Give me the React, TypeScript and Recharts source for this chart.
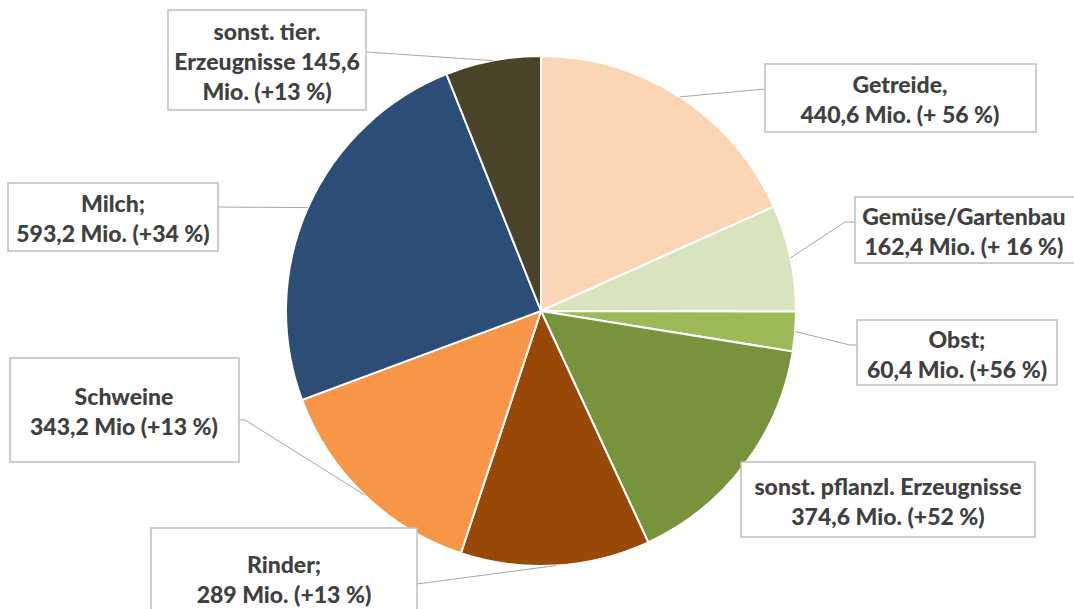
import { Cell, Pie, PieChart } from "recharts"

const categories = [
  "Getreide",
  "Gemüse/Gartenbau",
  "Obst",
  "sonst. pflanzl. Erzeugnisse",
  "Rinder",
  "Schweine",
  "Milch",
  "sonst. tier. Erzeugnisse",
]

const values = [440.6, 162.4, 60.4, 374.6, 289, 343.2, 593.2, 145.6]

const labelLines = [
  ["Getreide,", "440,6 Mio. (+ 56 %)"],
  ["Gemüse/Gartenbau", "162,4 Mio. (+ 16 %)"],
  ["Obst;", "60,4 Mio. (+56 %)"],
  ["sonst. pflanzl. Erzeugnisse", "374,6 Mio. (+52 %)"],
  ["Rinder;", "289 Mio. (+13 %)"],
  ["Schweine", "343,2 Mio (+13 %)"],
  ["Milch;", "593,2 Mio. (+34 %)"],
  ["sonst. tier.", "Erzeugnisse 145,6", "Mio. (+13 %)"],
]

const colors = ["#FCD5B5", "#D7E4BD", "#9BBB59", "#77933C", "#984807", "#F79646", "#2C4D75", "#4A4229"]

// label box placement (layout only)
const boxes = [
  { x: 765, y: 64, w: 271, h: 68, ax: 765, ay: 89, tx: 900 },
  { x: 855, y: 197, w: 226, h: 66, ax: 855, ay: 222, ex: 845, ey: 222, tx: 964 },
  { x: 857, y: 320, w: 200, h: 65, ax: 857, ay: 345, ex: 850, ey: 345, tx: 957 },
  { x: 741, y: 462, w: 294, h: 75, ax: 742, ay: 463, tx: 888 },
  { x: 151, y: 528, w: 266, h: 100, ax: 417, ay: 584, tx: 284 },
  { x: 10, y: 358, w: 229, h: 104, ax: 239, ay: 420, ex: 245, ey: 420, tx: 124 },
  { x: 8, y: 183, w: 210, h: 68, ax: 218, ay: 207, tx: 113 },
  { x: 168, y: 10, w: 198, h: 100, ax: 366, ay: 52, tx: 267 },
]

const data = categories.map((name, i) => ({ name, value: values[i] }))

const RAD = Math.PI / 180

function BoxLabel(props: any) {
  const { cx, cy, midAngle, outerRadius, index } = props
  const b = boxes[index]
  const px = cx + outerRadius * Math.cos(-midAngle * RAD)
  const py = cy + outerRadius * Math.sin(-midAngle * RAD)
  const pts = b.ex !== undefined ? `${px},${py} ${b.ex},${b.ey} ${b.ax},${b.ay}` : `${px},${py} ${b.ax},${b.ay}`
  const lines = labelLines[index]
  const step = 30
  const mid = b.y + b.h / 2 + 1
  return (
    <g>
      <polyline points={pts} fill="none" stroke="#a6a6a6" strokeWidth={1} />
      <rect x={b.x} y={b.y} width={b.w} height={b.h} fill="#fff" stroke="#bfbfbf" strokeWidth={1.5} />
      {lines.map((t, k) => (
        <text
          key={k}
          x={b.tx}
          y={mid + (k - (lines.length - 1) / 2) * step}
          textAnchor="middle"
          dominantBaseline="central"
          fontFamily="Lato, sans-serif"
          fontWeight={900}
          fontSize={23}
          fill="#404040"
        >
          {t}
        </text>
      ))}
    </g>
  )
}

export default function App() {
  return (
    <div style={{ position: "absolute", left: 0, top: 0, width: 1074, height: 609, background: "#fff" }}>
      <PieChart width={1074} height={609} margin={{ top: 0, right: 0, bottom: 0, left: 0 }}>
        <Pie
          data={data}
          dataKey="value"
          nameKey="name"
          cx={541}
          cy={311}
          outerRadius={255}
          startAngle={90}
          endAngle={-270}
          stroke="#fff"
          strokeWidth={2}
          label={BoxLabel}
          labelLine={false}
          isAnimationActive={false}
        >
          {data.map((d, i) => (
            <Cell key={d.name} fill={colors[i]} />
          ))}
        </Pie>
      </PieChart>
    </div>
  )
}
